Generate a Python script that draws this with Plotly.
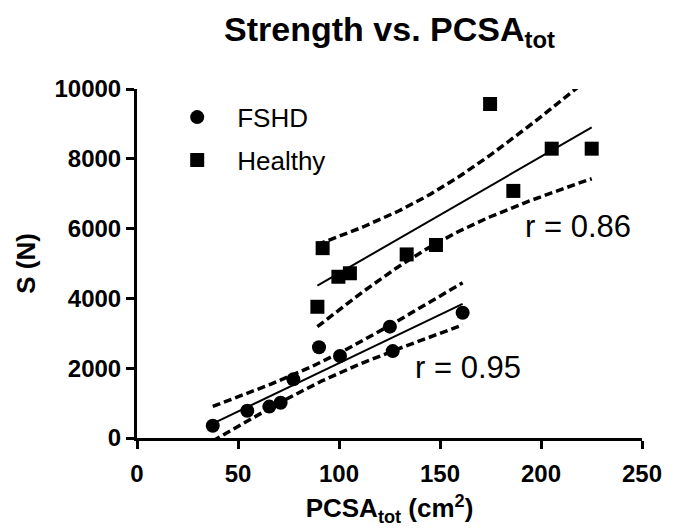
import numpy as np
import plotly.graph_objects as go

# ---- data ----
fshd_pcsa = [37.5, 54.6, 65.5, 71.1, 77.4, 90.1, 100.5, 125.2, 126.6, 161.2]
fshd_strength = [350, 780, 900, 1010, 1680, 2600, 2350, 3190, 2490, 3590]

healthy_pcsa = [174.8, 205.3, 225.1, 186.3, 148.0, 133.5, 91.9, 99.7, 105.4, 89.3]
healthy_strength = [9570, 8290, 8290, 7080, 5530, 5260, 5440, 4620, 4720, 3760]

r_labels = {"FSHD": "r = 0.95", "Healthy": "r = 0.86"}
r_label_pos = {"FSHD": (136.6, 2034), "Healthy": (191, 6046)}

x_ticks = [0, 50, 100, 150, 200, 250]
y_ticks = [0, 2000, 4000, 6000, 8000, 10000]
y_tick_text = ["0", "2000", "4000", "6000", "8000", "10000"]

T_CRIT_95_DF8 = 2.306  # two-sided 95% t value, n-2 = 8 degrees of freedom

FONT = "Liberation Sans, Arial, sans-serif"


def fit_with_band(x, y):
    x = np.asarray(x, float)
    y = np.asarray(y, float)
    n = len(x)
    slope, intercept = np.polyfit(x, y, 1)
    resid = y - (slope * x + intercept)
    s = np.sqrt(np.sum(resid ** 2) / (n - 2))
    sxx = np.sum((x - x.mean()) ** 2)
    xs = np.linspace(x.min(), x.max(), 120)
    ys = slope * xs + intercept
    half = T_CRIT_95_DF8 * s * np.sqrt(1.0 / n + (xs - x.mean()) ** 2 / sxx)
    return xs, ys, ys - half, ys + half


fig = go.Figure()

for name, xs_data, ys_data, symbol in [
    ("FSHD", fshd_pcsa, fshd_strength, "circle"),
    ("Healthy", healthy_pcsa, healthy_strength, "square"),
]:
    xs, ys, lo, hi = fit_with_band(xs_data, ys_data)
    fig.add_trace(go.Scatter(x=xs, y=ys, mode="lines", showlegend=False,
                             line=dict(color="black", width=2), hoverinfo="skip"))
    for band in (lo, hi):
        fig.add_trace(go.Scatter(x=xs, y=band, mode="lines", showlegend=False,
                                 line=dict(color="black", width=3.5, dash="8px,4px"),
                                 hoverinfo="skip"))
    fig.add_trace(go.Scatter(x=xs_data, y=ys_data, mode="markers", name=name,
                             legendgroup=name,
                             marker=dict(symbol=symbol, size=14, color="black",
                                         line=dict(width=0))))
    px, py = r_label_pos[name]
    fig.add_annotation(x=px, y=py, text=r_labels[name], showarrow=False,
                       xanchor="left", yanchor="middle",
                       font=dict(family=FONT, size=31, color="black"))

axis_common = dict(showline=True, linewidth=3, linecolor="black", ticks="outside",
                   ticklen=8, tickwidth=3, tickcolor="black", showgrid=False,
                   zeroline=False, mirror=False,
                   tickfont=dict(family=FONT, size=24, color="black", weight="bold"))

fig.update_xaxes(range=[0, 250], tickvals=x_ticks, ticklabelstandoff=4,
                 title=dict(text="PCSA<sub>tot</sub> (cm<sup>2</sup>)", standoff=14,
                            font=dict(family=FONT, size=26, color="black", weight="bold")),
                 **axis_common)
fig.update_yaxes(range=[0, 10000], tickvals=y_ticks, ticktext=y_tick_text,
                 title=dict(text="S (N)", standoff=12,
                            font=dict(family=FONT, size=26, color="black", weight="bold")),
                 **axis_common)

# the page body adds an 8 px offset, so the figure is 8 px smaller than the window
fig.update_layout(
    width=690, height=523, autosize=False,
    margin=dict(l=129, r=56, t=81, b=93),
    paper_bgcolor="white", plot_bgcolor="white",
    title=dict(text="Strength vs. PCSA<sub>tot</sub>", x=0.5, xref="paper",
               y=1 - 21 / 523, yref="container", yanchor="middle", xanchor="center",
               font=dict(family=FONT, size=34, color="black", weight="bold")),
    legend=dict(x=0.04, y=0.9865, xanchor="left", yanchor="top",
                traceorder="grouped", tracegroupgap=6, itemwidth=70,
                bgcolor="rgba(0,0,0,0)",
                font=dict(family=FONT, size=26, color="black")),
    showlegend=True,
)

fig.write_html("out.html")
